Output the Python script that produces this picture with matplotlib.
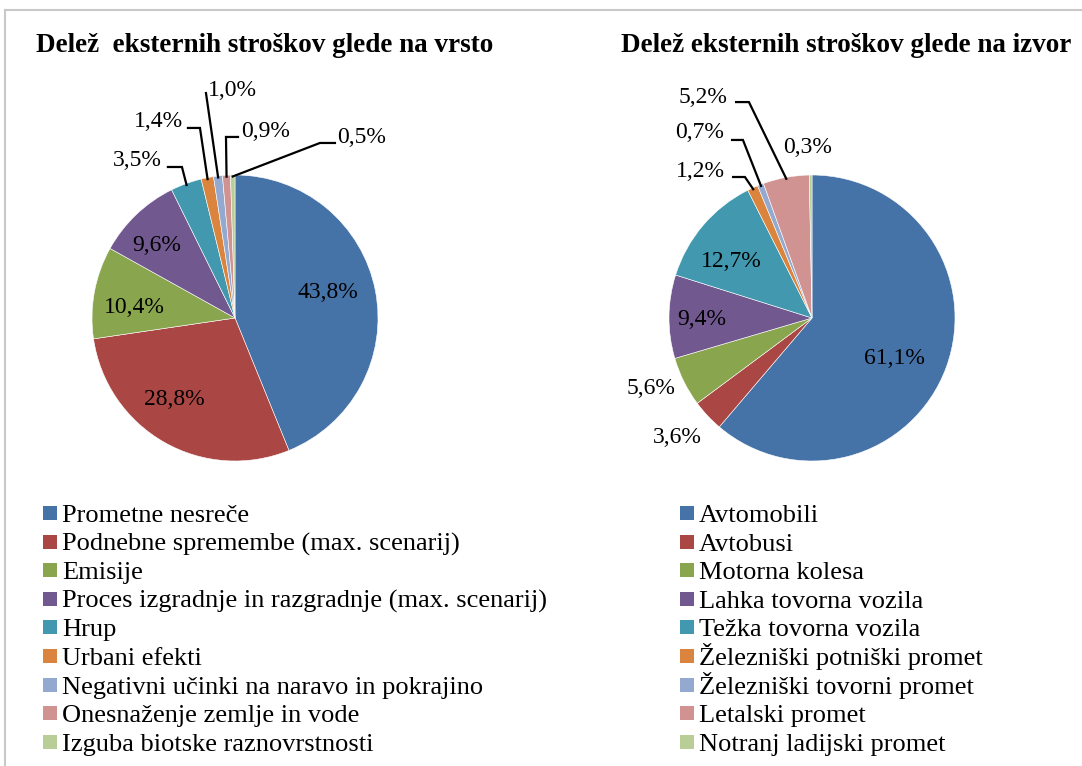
import numpy as np
import matplotlib
matplotlib.use("Agg")
from matplotlib import pyplot as plt
from matplotlib.patches import Rectangle
from matplotlib.lines import Line2D

plt.rcParams['font.family'] = ['Liberation Serif', 'DejaVu Serif']

# podatki -- delež po vrsti stroška
vrste = ['Prometne nesreče', 'Podnebne spremembe (max. scenarij)', 'Emisije',
         'Proces izgradnje in razgradnje (max. scenarij)', 'Hrup', 'Urbani efekti',
         'Negativni učinki na naravo in pokrajino', 'Onesnaženje zemlje in vode',
         'Izguba biotske raznovrstnosti']
delez_vrsta = [43.8, 28.8, 10.4, 9.6, 3.5, 1.4, 1.0, 0.9, 0.5]

# podatki -- delež po izvoru
izvori = ['Avtomobili', 'Avtobusi', 'Motorna kolesa', 'Lahka tovorna vozila',
          'Težka tovorna vozila', 'Železniški potniški promet',
          'Železniški tovorni promet', 'Letalski promet', 'Notranj ladijski promet']
delez_izvor = [61.1, 3.6, 5.6, 9.4, 12.7, 1.2, 0.7, 5.2, 0.3]

barve = ['#4572A7', '#AA4643', '#89A54E', '#71588F', '#4198AF',
         '#DB843D', '#93A9CF', '#D19392', '#B9CD96']

# položaji oznak (v enotah polmera), None = brez črte
# (besedilo x, y, začetek črte, koleno črte)
oznake_vrsta = [
    ((0.650, 0.175), None),
    ((-0.427, -0.573), None),
    ((-0.706, 0.070), None),
    ((-0.545, 0.510), None),
    ((-0.685, 1.098), ((-0.469, 1.056), (-0.371, 1.056))),
    ((-0.538, 1.371), ((-0.329, 1.329), (-0.245, 1.329))),
    ((-0.021, 1.594), ((-0.203, 1.573), (-0.203, 1.573))),
    ((0.217, 1.301), ((0.021, 1.266), (-0.063, 1.266))),
    ((0.888, 1.259), ((0.699, 1.224), (0.594, 1.224))),
]
oznake_izvor = [
    ((0.573, -0.280), None),
    ((-0.944, -0.839), None),
    ((-1.126, -0.490), None),
    ((-0.769, -0.007), None),
    ((-0.566, 0.392), None),
    ((-0.783, 1.021), ((-0.552, 0.986), (-0.469, 0.986))),
    ((-0.783, 1.294), ((-0.559, 1.245), (-0.483, 1.245))),
    ((-0.762, 1.545), ((-0.531, 1.510), (-0.441, 1.510))),
    ((-0.028, 1.189), None),
]

W, H = 1082, 766
R = 143.0   # polmer v pikslih
CY = 318.0


def pita(cx, vrednosti, oznake, naslov, naslov_x):
    ax = fig.add_axes([(cx - 1.6 * R) / W, (H - CY - 1.3 * R) / H,
                       3.2 * R / W, 3.2 * R / H])
    wedges, _ = ax.pie(vrednosti, colors=barve, startangle=90, counterclock=False,
                       radius=1.0, wedgeprops=dict(edgecolor='white', linewidth=0.4))
    ax.set_xlim(-1.6, 1.6)
    ax.set_ylim(-1.3, 1.9)
    ax.set_aspect('equal')
    ax.axis('off')
    for w, v, (pos, crta) in zip(wedges, vrednosti, oznake):
        ax.text(pos[0], pos[1], ('%.1f' % v).replace('.', ',') + '%',
                ha='center', va='center', fontsize=17)
        if crta is not None:
            kot = np.deg2rad((w.theta1 + w.theta2) / 2)
            konec = (0.99 * np.cos(kot), 0.99 * np.sin(kot))
            ax.plot([crta[0][0], crta[1][0], konec[0]],
                    [crta[0][1], crta[1][1], konec[1]],
                    color='black', lw=1.6, solid_joinstyle='miter')
    fig.text(naslov_x / W, 1 - 46 / H, naslov, ha='center', va='center',
             fontsize=19.5, fontweight='bold')
    return ax


def legenda(imena, x0, y0=513, korak=28.6, kv=14):
    # ročna legenda: kvadratek + besedilo, enakomerni razmiki
    for i, (ime, c) in enumerate(zip(imena, barve)):
        yc = y0 + i * korak
        fig.add_artist(Rectangle((x0 / W, 1 - (yc + kv / 2) / H), kv / W, kv / H,
                                 facecolor=c, edgecolor='none',
                                 transform=fig.transFigure))
        fig.text((x0 + kv + 5) / W, 1 - (yc + 9) / H, ime, ha='left',
                 va='baseline', fontsize=19)


fig = plt.figure(figsize=(W / 100, H / 100), dpi=100)

pita(235, delez_vrsta, oznake_vrsta, 'Delež  eksternih stroškov glede na vrsto', 265)
pita(812, delez_izvor, oznake_izvor, 'Delež eksternih stroškov glede na izvor', 846)

legenda(vrste, 43)
legenda(izvori, 680)

# siv okvir
siva = '#c8c8c8'
fig.add_artist(Line2D([5 / W, 1], [1 - 10 / H, 1 - 10 / H], color=siva, lw=1.5))
fig.add_artist(Line2D([5 / W, 5 / W], [0, 1 - 10 / H], color=siva, lw=1.5))

fig.savefig('out.png', dpi=100)
